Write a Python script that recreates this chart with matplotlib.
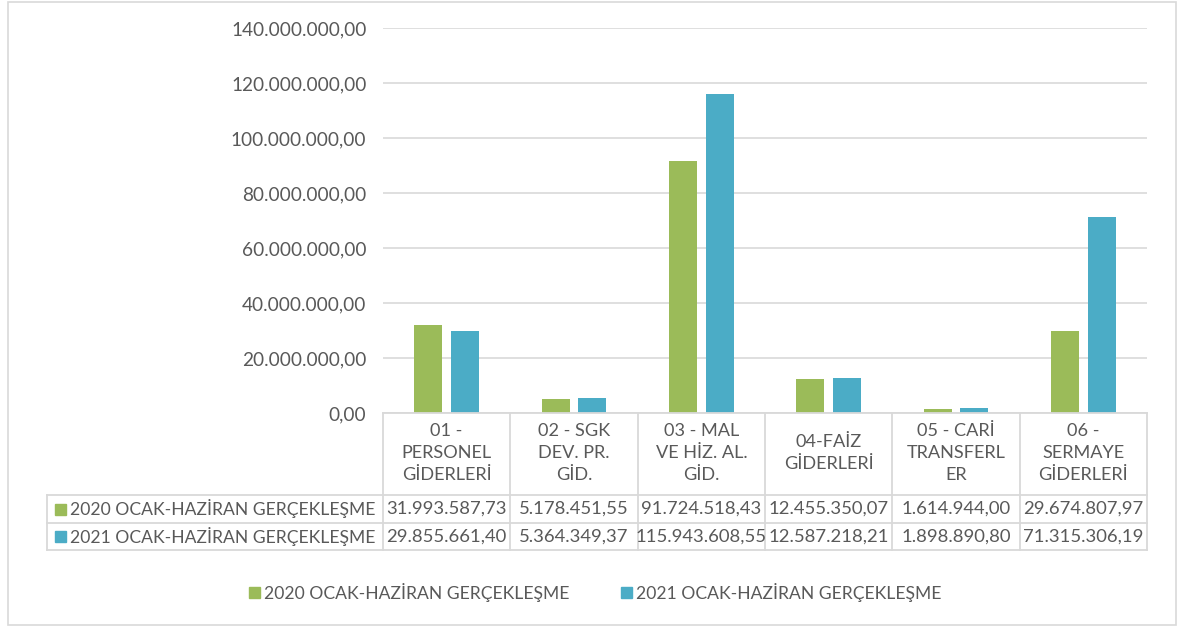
import matplotlib
matplotlib.use("Agg")
import matplotlib.pyplot as plt
from matplotlib.lines import Line2D
from matplotlib.patches import Rectangle
from matplotlib.ticker import FuncFormatter

categories = ["01 -\nPERSONEL\nGİDERLERİ", "02 - SGK\nDEV. PR.\nGİD.", "03 - MAL\nVE HİZ. AL.\nGİD.",
              "04-FAİZ\nGİDERLERİ", "05 - CARİ\nTRANSFERL\nER", "06 -\nSERMAYE\nGİDERLERİ"]
series_names = ["2020 OCAK-HAZİRAN GERÇEKLEŞME", "2021 OCAK-HAZİRAN GERÇEKLEŞME"]
values_2020 = [31993587.73, 5178451.55, 91724518.43, 12455350.07, 1614944.00, 29674807.97]
values_2021 = [29855661.40, 5364349.37, 115943608.55, 12587218.21, 1898890.80, 71315306.19]
labels_2020 = ["31.993.587,73", "5.178.451,55", "91.724.518,43", "12.455.350,07", "1.614.944,00", "29.674.807,97"]
labels_2021 = ["29.855.661,40", "5.364.349,37", "115.943.608,55", "12.587.218,21", "1.898.890,80", "71.315.306,19"]
yticks = [0, 20e6, 40e6, 60e6, 80e6, 100e6, 120e6, 140e6]

colors = ["#9BBB59", "#4BACC6"]
txt = "#595959"
grid = "#D9D9D9"
FONT = ["Lato", "DejaVu Sans"]
plt.rcParams["font.family"] = FONT

W, H = 1185, 626
fig = plt.figure(figsize=(W / 100, H / 100), dpi=100)

def fx(px):
    return px / W

def fy(py):
    return 1 - py / H

# outer border
fig.add_artist(Rectangle((fx(8), fy(625)), fx(1176) - fx(8), fy(2) - fy(625),
                         transform=fig.transFigure, fill=False, edgecolor=grid, lw=1.2))

L, R, T, B = 383, 1147, 28, 413
ax = fig.add_axes([fx(L), fy(B), fx(R) - fx(L), fy(T) - fy(B)])
x = list(range(len(categories)))
bw = 0.22
off = 0.143
ax.bar([i - off for i in x], values_2020, width=bw, color=colors[0], zorder=3)
ax.bar([i + off for i in x], values_2021, width=bw, color=colors[1], zorder=3)
ax.set_xlim(-0.5, len(categories) - 0.5)
ax.set_ylim(0, 140e6)
ax.set_yticks(yticks)
ax.yaxis.set_major_formatter(FuncFormatter(
    lambda v, p: f"{v:,.2f}".replace(",", "X").replace(".", ",").replace("X", ".")))
ax.tick_params(axis="y", length=0, pad=12, labelsize=13.7, labelcolor=txt)
ax.set_xticks([])
for s in ax.spines.values():
    s.set_visible(False)
ax.grid(axis="y", color=grid, lw=1.2, zorder=0)

# data table
col_edges = [L + (R - L) * k / len(categories) for k in range(len(categories) + 1)]
y_head_bot, y_r1, y_r2 = 495, 523, 550
left_tab = 47
def line(x0, y0, x1, y1):
    fig.add_artist(Line2D([fx(x0), fx(x1)], [fy(y0), fy(y1)], transform=fig.transFigure,
                          color=grid, lw=1.3))
line(L, B, R, B)
line(left_tab, y_head_bot, R, y_head_bot)
line(left_tab, y_r1, R, y_r1)
line(left_tab, y_r2, R, y_r2)
line(left_tab, y_head_bot, left_tab, y_r2)
for xe in col_edges:
    line(xe, B, xe, y_r2)

fs_txt = 12.6
fs_num = 13.3
fs_head = 13.1
for k, c in enumerate(categories):
    cx = (col_edges[k] + col_edges[k + 1]) / 2
    fig.text(fx(cx), fy((B + y_head_bot) / 2 - 1), c, ha="center", va="center",
             fontsize=fs_head, color=txt, linespacing=1.5)
    fig.text(fx(cx), fy((y_head_bot + y_r1) / 2), labels_2020[k], ha="center", va="center",
             fontsize=fs_num, color=txt)
    fig.text(fx(cx), fy((y_r1 + y_r2) / 2), labels_2021[k], ha="center", va="center",
             fontsize=fs_num, color=txt)

for r, (yc, name) in enumerate(zip([(y_head_bot + y_r1) / 2, (y_r1 + y_r2) / 2], series_names)):
    fig.add_artist(Rectangle((fx(55), fy(yc + 5.5)), fx(11), fy(yc - 5.5) - fy(yc + 5.5),
                             transform=fig.transFigure, color=colors[r]))
    fig.text(fx(70), fy(yc), name, ha="left", va="center", fontsize=fs_txt, color=txt)

# legend
for xm, name, col in [(249, series_names[0], colors[0]), (621, series_names[1], colors[1])]:
    yc = 592
    fig.add_artist(Rectangle((fx(xm), fy(yc + 5.5)), fx(11), fy(yc - 5.5) - fy(yc + 5.5),
                             transform=fig.transFigure, color=col))
    fig.text(fx(xm + 15), fy(yc), name, ha="left", va="center", fontsize=fs_txt, color=txt)

fig.savefig("out.png", dpi=100, facecolor="white")
